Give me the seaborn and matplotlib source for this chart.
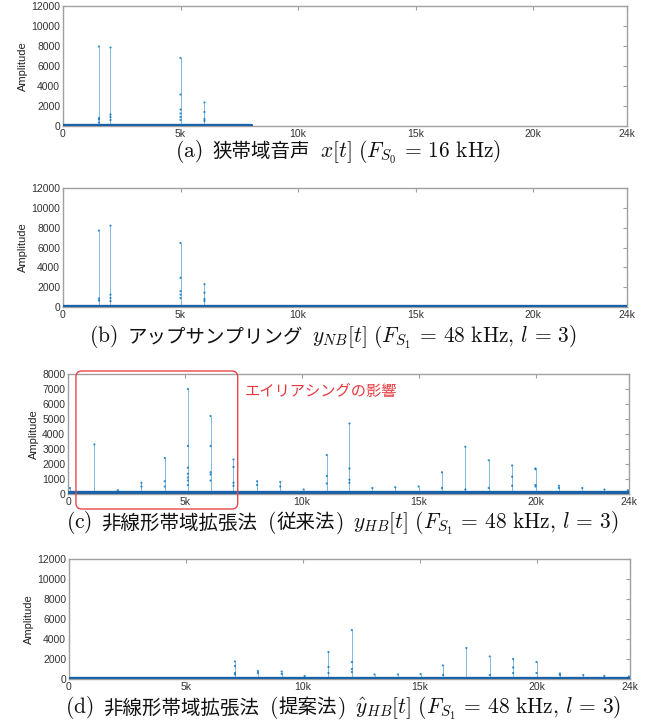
import numpy as np
import pandas as pd
import matplotlib
matplotlib.use("Agg")
import matplotlib.pyplot as plt
import seaborn as sns
from matplotlib.patches import FancyBboxPatch
from matplotlib.offsetbox import TextArea, HPacker, AnchoredOffsetbox

sns.set_theme(style="white")
plt.rcParams['font.family'] = ['Liberation Sans', 'Noto Sans CJK JP', 'DejaVu Sans']
plt.rcParams['mathtext.fontset'] = 'cm'

# ---------------- data ----------------
# (a) narrowband speech
a_freq = [1530, 2020, 5000, 6020]
a_amp = [7950, 7850, 6800, 2350]
a_sub_freq = [1530, 1530, 1530, 2020, 2020, 2020, 5000, 5000, 5000, 5000, 5000, 6020, 6020, 6020]
a_sub_amp = [800, 650, 350, 1150, 900, 600, 3150, 1650, 1250, 900, 600, 1400, 700, 500]
a_floor_x = [0, 8000]
a_floor_y = [60, 60]

# (b) upsampling
b_freq = [1530, 2020, 5000, 6020]
b_amp = [7700, 8200, 6450, 2300]
b_sub_freq = [1530, 1530, 2020, 2020, 2020, 5000, 5000, 5000, 5000, 6020, 6020, 6020]
b_sub_amp = [850, 650, 1250, 900, 600, 2950, 1600, 1250, 900, 1450, 800, 600]
b_floor_x = [0, 24000]
b_floor_y = [60, 60]

# (c) conventional method
c_freq = [80, 1130, 2130, 3140, 4140, 5130, 6100, 7080, 8090, 9080, 10080, 11070, 12040,
          13020, 14000, 15000, 16000, 17000, 18000, 19000, 20000, 21000, 22000, 22950, 23950]
c_amp = [400, 3300, 250, 750, 2400, 7000, 5200, 2300, 850, 800, 300, 2600, 4700,
         400, 450, 500, 1450, 3150, 2250, 1900, 1700, 550, 400, 300, 250]
c_sub_freq = [3140, 4140, 4140, 5130, 5130, 5130, 5130, 5130, 5130, 6100, 6100, 6100, 6100,
              7080, 7080, 7080, 8090, 9080, 11070, 11070, 12040, 12040, 12040, 16000, 17000,
              18000, 19000, 19000, 20000, 20000, 20000, 21000]
c_sub_amp = [500, 850, 500, 3200, 1750, 1350, 1100, 900, 600, 3200, 1450, 1300, 900,
             1800, 750, 550, 600, 500, 1200, 700, 1700, 950, 750, 400, 300,
             400, 1150, 550, 1650, 600, 500, 400]
c_floor_x = [0, 24000]
c_floor_y = [120, 120]

# (d) proposed method
d_freq = [7100, 8080, 9100, 10080, 11100, 12100, 13070, 14070, 15040, 16000, 17000, 18000,
          19000, 20000, 21000, 22000, 22900, 23950]
d_amp = [1750, 800, 750, 300, 2700, 4900, 450, 450, 500, 1350, 3100, 2250,
         2000, 1700, 550, 400, 300, 250]
d_sub_freq = [7100, 7100, 7100, 8080, 9100, 11100, 11100, 12100, 12100, 12100, 16000, 18000,
              19000, 19000, 20000, 21000]
d_sub_amp = [1300, 600, 450, 600, 500, 1200, 600, 1700, 1000, 700, 400, 400,
             1150, 600, 600, 400]
d_floor_x = [0, 24000]
d_floor_y = [70, 70]

x_ticks = [0, 5000, 10000, 15000, 20000, 24000]
x_ticklabels = ["0", "5k", "10k", "15k", "20k", "24k"]

# caption pieces
cap_labels = ["(a)", "(b)", "(c)", "(d)"]
cap_titles = ["狭帯域音声", "アップサンプリング", "非線形帯域拡張法", "非線形帯域拡張法"]
cap_methods = [None, None, "従来法", "提案法"]
cap_math = [
    r"$x[t]\ (F_{S_0}\,=\,16\ \mathrm{kHz})$",
    r"$y_{NB}[t]\ (F_{S_1}\,=\,48\ \mathrm{kHz},\,l\,=\,3)$",
    r"$y_{HB}[t]\ (F_{S_1}\,=\,48\ \mathrm{kHz},\,l\,=\,3)$",
    r"$\hat{y}_{HB}[t]\ (F_{S_1}\,=\,48\ \mathrm{kHz},\,l\,=\,3)$",
]

BLUE = "#0072BD"
GRAY = "#a0a0a0"
MATH_FS = 15.5
JP_FS = 14

fig = plt.figure(figsize=(6.63, 7.24), dpi=100)

W, H = 663, 724
def box(l, r, t, b):
    return [l / W, 1 - b / H, (r - l) / W, (b - t) / H]

panels = [
    dict(pos=box(63, 627, 6, 126), f=a_freq, a=a_amp, sf=a_sub_freq, sa=a_sub_amp,
         fx=a_floor_x, fy=a_floor_y, ymax=12000, ystep=2000, cap=(338, 152)),
    dict(pos=box(63, 627, 188, 307), f=b_freq, a=b_amp, sf=b_sub_freq, sa=b_sub_amp,
         fx=b_floor_x, fy=b_floor_y, ymax=12000, ystep=2000, cap=(333, 337)),
    dict(pos=box(68, 629, 374, 494), f=c_freq, a=c_amp, sf=c_sub_freq, sa=c_sub_amp,
         fx=c_floor_x, fy=c_floor_y, ymax=8000, ystep=1000, cap=(342, 523)),
    dict(pos=box(69, 630, 559, 679), f=d_freq, a=d_amp, sf=d_sub_freq, sa=d_sub_amp,
         fx=d_floor_x, fy=d_floor_y, ymax=12000, ystep=2000, cap=(343, 708)),
]

def math_ta(s):
    return TextArea(s, textprops=dict(fontsize=MATH_FS, color="#111111"))

def jp_ta(s):
    return TextArea(s, textprops=dict(fontsize=JP_FS, color="#111111",
                                      family=['Noto Sans CJK JP', 'DejaVu Sans']))

axes = []
for i, p in enumerate(panels):
    ax = fig.add_axes(p["pos"])
    axes.append(ax)
    # stems
    ax.vlines(p["f"], 0, p["a"], color=BLUE, lw=0.7, alpha=0.5, zorder=2)
    # markers at stem tops and intermediate points
    pts = pd.DataFrame({"freq": list(p["f"]) + list(p["sf"]),
                        "amp": list(p["a"]) + list(p["sa"])})
    sns.scatterplot(data=pts, x="freq", y="amp", ax=ax, color=BLUE, s=2.5, alpha=0.8,
                    marker="o", edgecolor="none", zorder=3, legend=False)
    # noise floor
    fl = pd.DataFrame({"freq": p["fx"], "amp": p["fy"]})
    sns.lineplot(data=fl, x="freq", y="amp", ax=ax, color="#1a63a8", lw=2.4, zorder=4)
    ax.set_xlim(0, 24000)
    ax.set_ylim(0, p["ymax"])
    ax.set_xticks(x_ticks)
    ax.set_xticklabels(x_ticklabels)
    ax.set_yticks(np.arange(0, p["ymax"] + 1, p["ystep"]))
    ax.set_xlabel("")
    ax.set_ylabel("Amplitude", fontsize=8, color="#222222", labelpad=2)
    ax.tick_params(direction="in", top=True, right=True, length=3, width=0.8,
                   color=GRAY, labelsize=7.5, labelcolor="#333333", pad=2)
    for s in ax.spines.values():
        s.set_color(GRAY)
        s.set_linewidth(1.0)

    # caption assembled from pieces
    children = [math_ta(r"$\mathrm{(%s)}$" % cap_labels[i][1]), jp_ta(cap_titles[i])]
    if cap_methods[i] is not None:
        inner = HPacker(children=[math_ta(r"$\mathrm{(}$"), jp_ta(cap_methods[i]),
                                  math_ta(r"$\mathrm{)}$")], sep=0, pad=0, align="baseline")
        children.append(inner)
    children.append(math_ta(cap_math[i]))
    pack = HPacker(children=children, sep=7, pad=0, align="baseline")
    anch = AnchoredOffsetbox(loc="center", child=pack, pad=0, borderpad=0, frameon=False,
                             bbox_to_anchor=(p["cap"][0] / W, 1 - p["cap"][1] / H),
                             bbox_transform=fig.transFigure)
    fig.add_artist(anch)

# annotation on panel (c)
axc = axes[2]
rect = FancyBboxPatch((340, -1000), 7260 - 340, 9200, boxstyle="round,pad=0,rounding_size=250",
                      transform=axc.transData, fill=False, edgecolor="#e8474b", lw=1.0,
                      clip_on=False, zorder=5, mutation_aspect=8200 / 24000 * 4.7)
axc.add_patch(rect)
axc.text(7570, 6800, "エイリアシングの影響", color="#e8393f", fontsize=11,
         ha="left", va="center", family=['Noto Sans CJK JP', 'DejaVu Sans'])

fig.savefig("out.png", dpi=100)
